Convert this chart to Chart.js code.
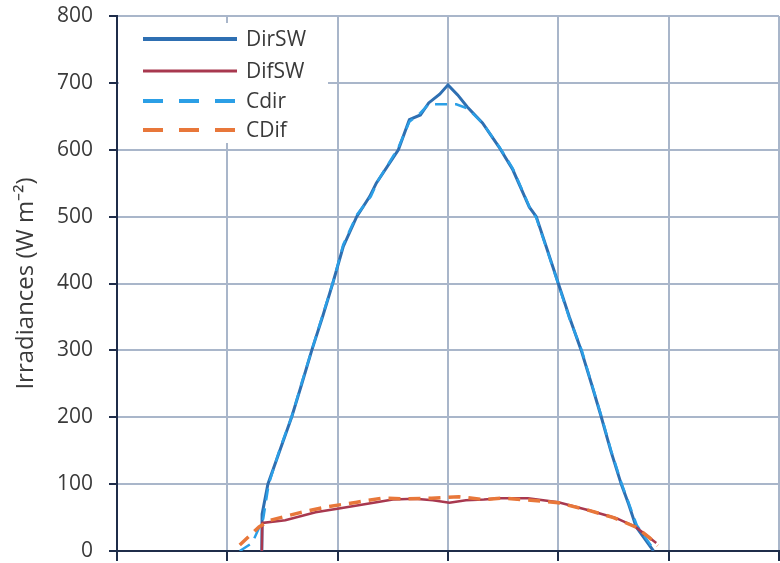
<!DOCTYPE html>
<html>
<head>
<meta charset="utf-8">
<script src="https://cdn.jsdelivr.net/npm/chart.js@4"></script>
<style>
  html, body { margin: 0; padding: 0; background: #fff; }
  #wrap { width: 780px; height: 563px; }
</style>
</head>
<body>
<div id="wrap"><canvas id="myChart" width="780" height="563"></canvas></div>
<script>
// hours of day (x) and irradiances in W m-2 (y)
const dirHours = [5.25, 5.26, 5.47, 5.9, 6.33, 6.7, 7.06, 7.45, 7.82, 8.2, 8.69, 9.16, 9.4, 10.2, 10.6, 11.0, 11.3, 11.7, 12.0, 12.35, 12.7, 13.25, 13.85, 14.35, 14.95, 15.2, 15.6, 16.0, 16.4, 16.83, 17.2, 17.56, 17.9, 18.28, 18.55, 18.82, 19.45];
const dirSW = [0, 55, 100, 150, 200, 250, 300, 350, 400, 455, 500, 530, 550, 600, 645, 652, 670, 683, 697, 682, 664, 640, 604, 570, 514, 500, 450, 400, 350, 300, 250, 200, 150, 100, 70, 36, 0];

const cdirHours = [4.45, 4.9, 5.3, 5.5, 5.9, 6.35, 6.7, 7.08, 7.45, 7.84, 8.2, 8.7, 9.2, 9.45, 10.2, 10.6, 11.0, 11.3, 11.65, 12.3, 12.7, 13.25, 13.85, 14.35, 14.95, 15.2, 15.6, 16.0, 16.4, 16.85, 17.2, 17.58, 17.9, 18.3, 18.55, 18.85, 19.5];
const cdir = [0, 12, 48, 100, 152, 203, 252, 303, 352, 403, 458, 503, 530, 553, 603, 642, 655, 668, 668, 668, 662, 640, 605, 572, 515, 498, 449, 399, 348, 300, 251, 199, 152, 100, 72, 38, 0];

const difHours = [5.25, 5.27, 6.1, 7.2, 8.1, 9.3, 10.0, 10.8, 11.45, 12.05, 12.65, 13.3, 13.9, 14.9, 16.0, 17.1, 18.1, 18.8, 19.55];
const difSW = [0, 42, 46, 58, 64, 72, 77, 78, 76, 72, 76, 77, 79, 79, 73, 61, 49, 36, 12];

const cdifHours = [4.45, 5.15, 5.55, 6.6, 7.6, 8.7, 9.6, 10.5, 11.4, 12.4, 13.3, 14.0, 15.0, 16.0, 17.0, 18.0, 18.8, 19.3, 19.6];
const cdif = [9, 36, 46, 57, 66, 73, 79, 78, 79, 81, 77, 79, 76, 72, 62, 50, 36, 20, 8];

const xTicks = [0, 4, 8, 12, 16, 20, 24];

const toPoints = (hours, values) => hours.map((h, i) => ({ x: h, y: values[i] }));

const textColor = "#3a3a3a";
const gridColor = "#a9b6ca";
const axisColor = "#1f2d4a";
const fontFamily = "'Open Sans', sans-serif";

// legend drawn inside the plot, on a white box, like the original
const boxLegend = {
	id: "boxLegend",
	afterDatasetsDraw(chart) {
		const ctx = chart.ctx;
		ctx.save();
		ctx.fillStyle = "#fff";
		ctx.fillRect(119, 23, 209, 120);
		const rows = [39, 71, 101, 130];
		chart.data.datasets.forEach((ds, i) => {
			const y = rows[i];
			ctx.beginPath();
			ctx.strokeStyle = ds.borderColor;
			ctx.lineWidth = ds.legendWidth;
			ctx.setLineDash(ds.borderDash.length ? [20, 16] : []);
			ctx.moveTo(143, y);
			ctx.lineTo(237, y);
			ctx.stroke();
			ctx.setLineDash([]);
			ctx.fillStyle = textColor;
			ctx.font = "21px " + fontFamily;
			ctx.textBaseline = "middle";
			ctx.fillText(ds.label, 246, y + 1);
		});
		ctx.restore();
	},
};

new Chart(document.getElementById("myChart"), {
	type: "line",
	data: {
		datasets: [
			{
				label: "DirSW",
				data: toPoints(dirHours, dirSW),
				borderColor: "#2e6fb2",
				borderWidth: 3,
				borderDash: [],
				legendWidth: 4,
				order: 3,
			},
			{
				label: "DifSW",
				data: toPoints(difHours, difSW),
				borderColor: "#a8384f",
				borderWidth: 2.5,
				borderDash: [],
				legendWidth: 3,
				order: 1,
			},
			{
				label: "Cdir",
				data: toPoints(cdirHours, cdir),
				borderColor: "#2b9fe6",
				borderWidth: 2.5,
				borderDash: [12, 8],
				legendWidth: 4,
				order: 2,
			},
			{
				label: "CDif",
				data: toPoints(cdifHours, cdif),
				borderColor: "#e8773a",
				borderWidth: 3.5,
				borderDash: [12, 8],
				legendWidth: 4,
				order: 0,
			},
		],
	},
	options: {
		responsive: false,
		animation: false,
		layout: { padding: { top: 16, right: 1, left: 0, bottom: 0 } },
		elements: {
			point: { radius: 0 },
			line: { tension: 0 },
		},
		plugins: {
			legend: { display: false },
			tooltip: { enabled: false },
		},
		scales: {
			x: {
				type: "linear",
				min: 0,
				max: 24,
				afterBuildTicks: (scale) => {
					scale.ticks = xTicks.map((v) => ({ value: v }));
				},
				afterFit: (scale) => {
					scale.height = 12;
					scale.paddingLeft = 0;
					scale.paddingRight = 0;
				},
				ticks: { display: false },
				grid: {
					color: gridColor,
					lineWidth: 2,
					tickLength: 10,
					tickColor: axisColor,
				},
				border: { color: axisColor, width: 2 },
			},
			y: {
				min: 0,
				max: 800,
				ticks: {
					stepSize: 100,
					color: textColor,
					padding: 16,
					font: { family: fontFamily, size: 21 },
				},
				afterFit: (scale) => {
					scale.width = 117;
					scale.paddingTop = 0;
					scale.paddingBottom = 0;
				},
				title: {
					display: true,
					text: "Irradiances (W m\u207B\u00B2)",
					color: textColor,
					padding: { top: 12, bottom: 0 },
					font: { family: fontFamily, size: 24 },
				},
				grid: {
					color: gridColor,
					lineWidth: 2,
					tickLength: 8,
					tickColor: axisColor,
				},
				border: { color: axisColor, width: 2 },
			},
		},
	},
	plugins: [boxLegend],
});
</script>
</body>
</html>
